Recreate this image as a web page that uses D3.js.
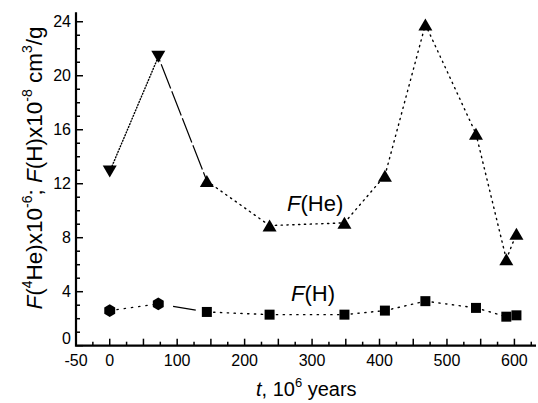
<!DOCTYPE html>
<html>
<head>
<meta charset="utf-8">
<script src="https://cdn.jsdelivr.net/npm/d3@7"></script>
<style>
  html, body { margin: 0; padding: 0; background: #fff; }
  svg { display: block; font-family: "Liberation Sans", Arial, Helvetica, sans-serif; }
</style>
</head>
<body>
<svg id="chart" width="538" height="403"></svg>
<script>
// Ages (10^6 years) and measured values
const ages = [0, 72, 144, 237, 348, 408, 468, 543, 588, 603];
const fHe = [12.9, 21.4, 12.2, 8.9, 9.1, 12.6, 23.8, 15.7, 6.4, 8.3];
const fH = [2.6, 3.1, 2.5, 2.3, 2.3, 2.6, 3.3, 2.8, 2.15, 2.25];
const heMarkers = ['down', 'down', 'up', 'up', 'up', 'up', 'up', 'up', 'up', 'up'];
const hMarkers = ['hex', 'hex', 'square', 'square', 'square', 'square', 'square', 'square', 'square', 'square'];
const xTickLabels = [-50, 0, 100, 200, 300, 400, 500, 600];
const yTickLabels = [0, 4, 8, 12, 16, 20, 24];

const svg = d3.select('#chart');

const x = d3.scaleLinear().domain([-50, 632]).range([76, 536]);
const y = d3.scaleLinear().domain([0, 24.7]).range([345.7, 12.3]);

// segment styles: first link, second link, the rest
const heStyles = ['1,2', '26,3', '1.3,4.5'];
const hStyles = ['1.3,6', '0,15,23,1000', '1.3,5.5'];

function draw_series(values, styles) {
    const pts = ages.map((a, i) => [x(a), y(values[i])]);
    for (let i = 0; i < pts.length - 1; i++) {
        const dash = styles[Math.min(i, 2)];
        svg.append('line')
            .attr('x1', pts[i][0]).attr('y1', pts[i][1])
            .attr('x2', pts[i + 1][0]).attr('y2', pts[i + 1][1])
            .attr('stroke', '#000')
            .attr('stroke-width', i === 1 ? 1.2 : 1.4)
            .attr('stroke-linecap', i === 1 ? 'butt' : 'round')
            .attr('stroke-dasharray', dash)
            .attr('stroke-dashoffset', (i === 1 && styles === heStyles) ? -8 : 0);
    }
}

function marker_path(kind, cx, cy) {
    if (kind === 'up') {
        return `M${cx - 7},${cy + 6}L${cx + 7},${cy + 6}L${cx},${cy - 6}Z`;
    }
    if (kind === 'down') {
        return `M${cx - 7},${cy - 6}L${cx + 7},${cy - 6}L${cx},${cy + 6}Z`;
    }
    if (kind === 'square') {
        return `M${cx - 5},${cy - 5}h10v10h-10Z`;
    }
    // pointy-top hexagon
    const r = 6.3;
    let d = '';
    for (let k = 0; k < 6; k++) {
        const ang = Math.PI / 180 * (60 * k - 90);
        d += (k ? 'L' : 'M') + (cx + r * Math.cos(ang)) + ',' + (cy + r * Math.sin(ang));
    }
    return d + 'Z';
}

draw_series(fHe, heStyles);
draw_series(fH, hStyles);

svg.append('g').selectAll('path')
    .data(ages.map((a, i) => ({a, v: fHe[i], m: heMarkers[i]})))
    .join('path')
    .attr('d', d => marker_path(d.m, x(d.a), y(d.v)))
    .attr('fill', '#000');

svg.append('g').selectAll('path')
    .data(ages.map((a, i) => ({a, v: fH[i], m: hMarkers[i]})))
    .join('path')
    .attr('d', d => marker_path(d.m, x(d.a), y(d.v)))
    .attr('fill', '#000');

// Axes (ticks pointing inward)
const axisG = svg.append('g');
const xTicks = d3.range(-50, 626, 25);
axisG.selectAll('.xt').data(xTicks).join('line')
    .attr('x1', d => x(d)).attr('x2', d => x(d))
    .attr('y1', y(0)).attr('y2', d => y(0) - (d % 50 === 0 ? 7 : 4))
    .attr('stroke', '#000').attr('stroke-width', 1.5);
const yTicks = d3.range(0, 25, 1);
axisG.selectAll('.yt').data(yTicks).join('line')
    .attr('y1', d => y(d)).attr('y2', d => y(d))
    .attr('x1', x(-50)).attr('x2', d => x(-50) + (d % 4 === 0 ? 7 : 4))
    .attr('stroke', '#000').attr('stroke-width', 1.5);

axisG.append('path')
    .attr('d', `M${x(-50)},${y(24.7)}V${y(0)}H${x(632)}`)
    .attr('fill', 'none').attr('stroke', '#000').attr('stroke-width', 2.2);

svg.append('g').selectAll('text').data(xTickLabels).join('text')
    .attr('x', d => x(d)).attr('y', 366)
    .attr('text-anchor', 'middle')
    .attr('font-size', 16)
    .text(d => d);

svg.append('g').selectAll('text').data(yTickLabels).join('text')
    .attr('x', 71).attr('y', d => y(d) + (d === 0 ? -1.5 : 5.7))
    .attr('text-anchor', 'end')
    .attr('font-size', 16)
    .text(d => d);

// Axis titles
const xt = svg.append('text').attr('x', 256).attr('y', 396).attr('font-size', 20);
xt.append('tspan').attr('font-style', 'italic').text('t');
xt.append('tspan').text(', 10');
xt.append('tspan').attr('font-size', 13).attr('dy', -9).text('6');
xt.append('tspan').attr('dy', 9).text(' years');

const yt = svg.append('text')
    .attr('transform', 'translate(42,168) rotate(-90)')
    .attr('text-anchor', 'middle')
    .attr('font-size', 22.5);
yt.append('tspan').attr('font-style', 'italic').text('F');
yt.append('tspan').text('(');
yt.append('tspan').attr('font-size', 14).attr('dy', -10).text('4');
yt.append('tspan').attr('dy', 10).text('He)x10');
yt.append('tspan').attr('font-size', 14).attr('dy', -10).text('-6');
yt.append('tspan').attr('dy', 10).text('; ');
yt.append('tspan').attr('font-style', 'italic').text('F');
yt.append('tspan').text('(H)x10');
yt.append('tspan').attr('font-size', 14).attr('dy', -10).text('-8');
yt.append('tspan').attr('dy', 10).text(' cm');
yt.append('tspan').attr('font-size', 14).attr('dy', -10).text('3');
yt.append('tspan').attr('dy', 10).text('/g');

// Series labels
const lHe = svg.append('text').attr('x', 287).attr('y', 211).attr('font-size', 22);
lHe.append('tspan').attr('font-style', 'italic').text('F');
lHe.append('tspan').text('(He)');
const lH = svg.append('text').attr('x', 291).attr('y', 300.5).attr('font-size', 22);
lH.append('tspan').attr('font-style', 'italic').text('F');
lH.append('tspan').text('(H)');
</script>
</body>
</html>
